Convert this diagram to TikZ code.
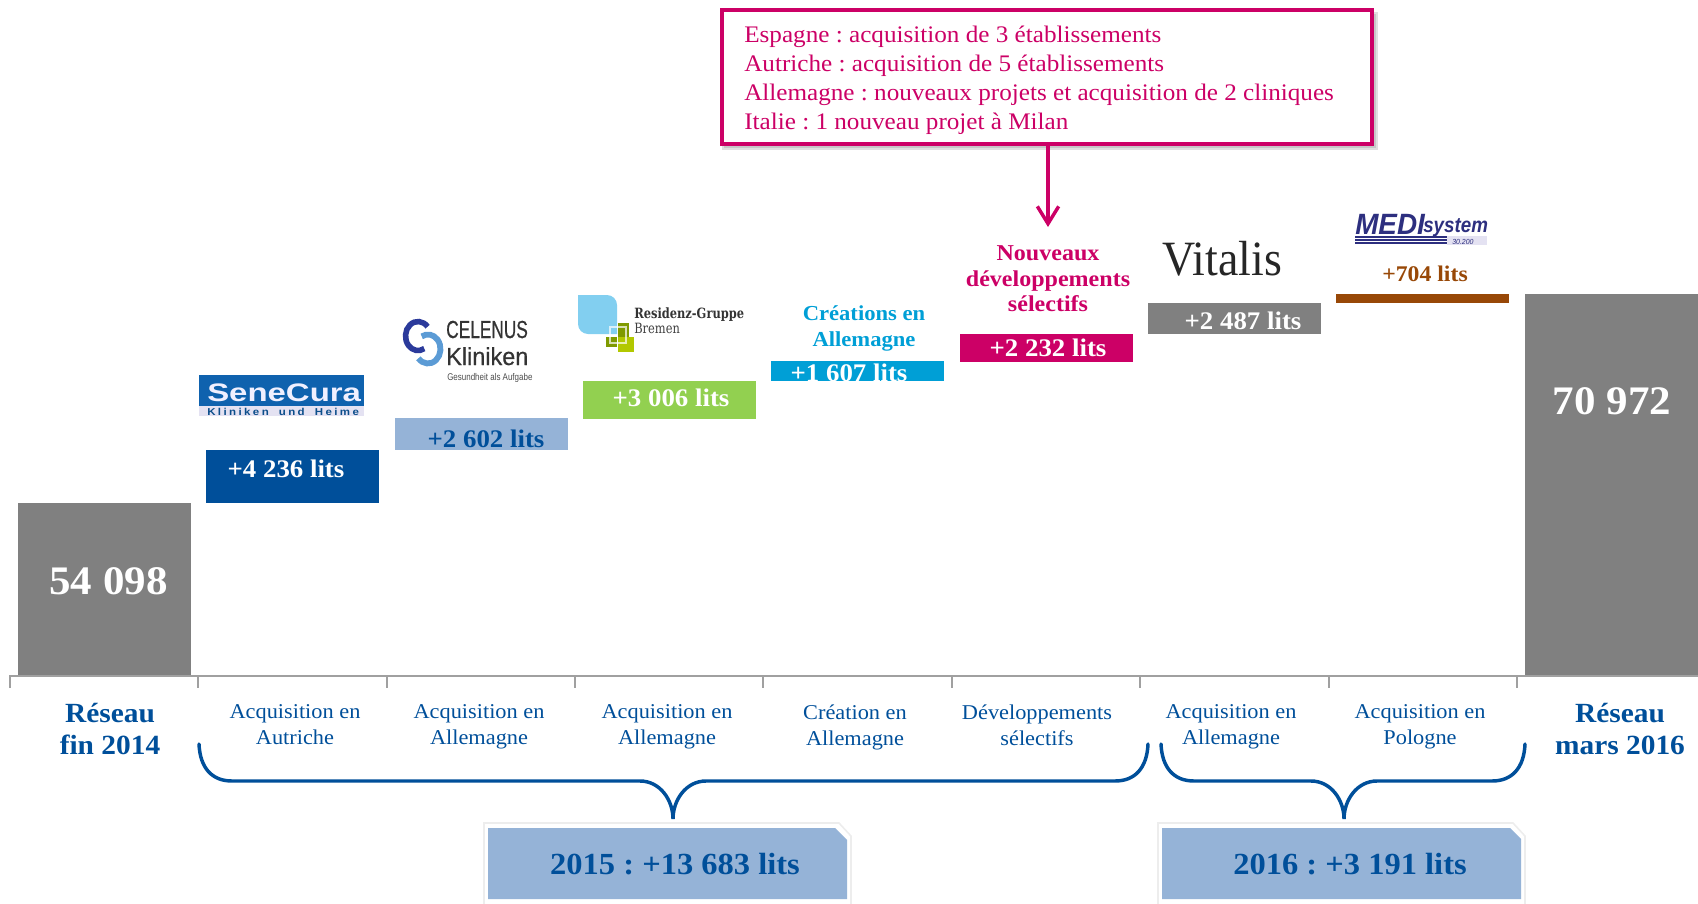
\documentclass[tikz,border=0pt]{standalone}
\usepackage{fontspec}
\setmainfont[FakeStretch=1.06]{Liberation Serif}
\newfontfamily\seneA[FakeStretch=1.3]{Liberation Sans}
\newfontfamily\seneB[FakeStretch=1.15,LetterSpace=24,WordSpace=1.8]{Liberation Sans}
\newfontfamily\celen[FakeStretch=0.70,FakeBold=0.5]{Liberation Sans}
\newfontfamily\celenK[FakeStretch=0.95,FakeBold=0.5]{Liberation Sans}
\newfontfamily\celenS[FakeStretch=0.82]{Liberation Sans}
\newfontfamily\resid[FakeStretch=0.81]{DejaVu Serif}
\newfontfamily\vitalfont[FakeStretch=0.93]{Liberation Serif}
\newfontfamily\medifont[FakeStretch=0.95]{Liberation Sans}
\newfontfamily\medisys[FakeStretch=0.88]{Liberation Sans}
\usetikzlibrary{arrows.meta,calc}
\definecolor{cgray}{HTML}{808080}
\definecolor{cnavy}{HTML}{004F9A}
\definecolor{clight}{HTML}{95B3D7}
\definecolor{cgreen}{HTML}{92D050}
\definecolor{ccyan}{HTML}{009FD6}
\definecolor{cmag}{HTML}{CC0066}
\definecolor{cbrown}{HTML}{984807}
\definecolor{ctick}{HTML}{A0A0A0}
\definecolor{csene}{HTML}{0F62AE}
\definecolor{cmedi}{HTML}{2D2F7F}
\definecolor{cring}{HTML}{2B3A9B}
\definecolor{cring2}{HTML}{5B9BD5}
\definecolor{csky}{HTML}{82CFF0}
\definecolor{colive}{HTML}{7F9A00}
\definecolor{clime}{HTML}{B2C800}
\definecolor{cband}{HTML}{E4E2F2}
\definecolor{crim}{HTML}{EDEDED}
\newcommand{\fs}[1]{\fontsize{#1}{#1}\selectfont\frenchspacing}
\tikzset{
  x=0.75pt,y=-0.75pt,
  val/.style={font=\fs{19}\bfseries,text=white,inner sep=0pt},
  bignum/.style={font=\fs{30.4}\bfseries,text=white,inner sep=0pt},
  cat/.style={font=\fs{15.8},text=cnavy,align=center,inner sep=0pt,text depth=5pt},
  big/.style={font=\fs{20.8}\bfseries,text=cnavy,align=center,inner sep=0pt,text depth=5pt},
  total/.style={font=\fs{23}\bfseries,text=cnavy,inner sep=0pt},
  brace/.style={draw=cnavy,line width=2.6pt,line cap=round},
  tickline/.style={draw=ctick,line width=1.2pt},
  logotxt/.style={inner sep=0pt,anchor=base west},
  rim/.style={draw=crim,line width=1.2pt,fill=white},
}
\begin{document}
\begin{tikzpicture}
\useasboundingbox (0,0) rectangle (1698,903);
% bars
\fill[cgray] (18,503) rectangle (191,676);
\fill[cnavy] (206,450) rectangle (379,503);
\fill[clight] (395,418) rectangle (568,450);
\fill[cgreen] (583,381) rectangle (756,419);
\fill[ccyan] (771,361) rectangle (944,381);
\fill[cmag] (960,334) rectangle (1133,362);
\fill[cgray] (1148,303) rectangle (1321,334);
\fill[cbrown] (1336,294) rectangle (1509,303);
\fill[cgray] (1525,294) rectangle (1698,676);
% bar labels
\node[bignum] (v0) at (108.5,581) {54 098};
\node[bignum] (v9) at (1612,401) {70 972};
\node[val] (v1) at (286,469) {+4 236 lits};
\node[val,text=cnavy] (v2) at (486,439) {+2 602 lits};
\node[val] (v3) at (671,398) {+3 006 lits};
\node[val] (v4) at (849,373) {+1 607 lits};
\node[val] (v5) at (1048,348) {+2 232 lits};
\node[val] (v6) at (1243,321) {+2 487 lits};
\node[font=\fs{16.8}\bfseries,text=cbrown,inner sep=0pt] (v7) at (1425,274) {+704 lits};
% headings
\node[font=\fs{16}\bfseries,text=ccyan,align=center,inner sep=0pt,text depth=4pt] (creat) at (864,329) {Créations en\\[3.2pt]Allemagne};
\node[font=\fs{17}\bfseries,text=cmag,align=center,inner sep=0pt] (nouv) at (1048,279) {Nouveaux\\[2.1pt]développements\\[2.1pt]sélectifs};
% axis
\draw[tickline] (10,688) -- (10,676) -- (1698,676);
\foreach \t in {198,387,575,763,952,1140,1329,1517}{\draw[tickline] (\t,676) -- (\t,688);}
% categories
\node[big] (r0) at (110,732) {Réseau\\[3.5pt]fin 2014};
\node[big] (r1) at (1620,732) {Réseau\\[3.5pt]mars 2016};
\node[cat] (c1) at (295,728) {Acquisition en\\[3.7pt]Autriche};
\node[cat] (c2) at (479,728) {Acquisition en\\[3.7pt]Allemagne};
\node[cat] (c3) at (667,728) {Acquisition en\\[3.7pt]Allemagne};
\node[cat] (c4) at (855,728) {Création en\\[3.7pt]Allemagne};
\node[cat] (c5) at (1037,728) {Développements\\[3.7pt]sélectifs};
\node[cat] (c6) at (1231,728) {Acquisition en\\[3.7pt]Allemagne};
\node[cat] (c7) at (1420,728) {Acquisition en\\[3.7pt]Pologne};
% braces
\coordinate (b1a) at (199,744); \coordinate (b1t) at (673,819); \coordinate (b1b) at (1148,744);
\coordinate (b2a) at (1161,744); \coordinate (b2t) at (1344,819); \coordinate (b2b) at (1525,744);
\draw[brace] (b1a) .. controls (200,768) and (212,781) .. (232,781) -- (640,781)
  .. controls (660,781) and (673,800) .. (b1t)
  .. controls (673,800) and (686,781) .. (706,781) -- (1115,781)
  .. controls (1135,781) and (1147,768) .. (b1b);
\draw[brace] (b2a) .. controls (1162,768) and (1174,781) .. (1194,781) -- (1311,781)
  .. controls (1331,781) and (1344,800) .. (b2t)
  .. controls (1344,800) and (1357,781) .. (1377,781) -- (1492,781)
  .. controls (1512,781) and (1524,768) .. (b2b);
% total boxes
\begin{scope}
\clip (0,0) rectangle (1698,903);
\path[rim] (484,823) -- (839,823) -- (851,836) -- (851,915) -- (484,915) -- cycle;
\fill[clight] (488,828) -- (835,828) -- (847,840) -- (847,899) -- (488,899) -- cycle;
\path[rim] (1158,823) -- (1513,823) -- (1525,836) -- (1525,915) -- (1158,915) -- cycle;
\fill[clight] (1162,828) -- (1510,828) -- (1521,839) -- (1521,899) -- (1162,899) -- cycle;
\end{scope}
\node[total] (t1) at (675,864) {2015 : +13 683 lits};
\node[total] (t2) at (1350,864) {2016 : +3 191 lits};
% callout
\fill[black!12] (722,12) rectangle (1378,150);
\fill[black!22] (724,14) rectangle (1376,148);
\node[draw=cmag,line width=2.8pt,fill=white,
  minimum width=487.5pt,minimum height=101pt,inner sep=0pt] (call) at (1047,77) {};
\node[font=\fs{17.8},text=cmag,align=left,anchor=west,inner sep=0pt] (calltxt) at (744,80) {Espagne : acquisition de 3 établissements\\[3.95pt]Autriche : acquisition de 5 établissements\\[3.95pt]Allemagne : nouveaux projets et acquisition de 2 cliniques\\[3.95pt]Italie : 1 nouveau projet à Milan};
\coordinate (arr) at (1048,227);
\draw[draw=cmag,line width=2.8pt,-{Straight Barb[length=13pt,width=16pt,line width=2.6pt]}] (call.south -| arr) -- (arr);
% SeneCura logo
\fill[csene] (199,375) rectangle (364,406);
\fill[cband] (199,406) rectangle (364,416);
\node[logotxt,font=\fs{19}\seneA\bfseries,text=blue!6!white] (sene) at (207,401) {SeneCura};
\node[logotxt,font=\fs{7.5}\seneB\bfseries,text=csene!80!black] (seneb) at (207,415) {Kliniken und Heime};
% Celenus logo
\draw[line width=4.2pt,draw=cring] (427.6,326.7) arc[start angle=-40,end angle=-300,x radius=12.5,y radius=14.5];
\draw[line width=4.4pt,draw=cring2] (418.4,358.3) arc[start angle=140,end angle=-120,x radius=12.5,y radius=14.5];
\node[logotxt,font=\fs{18.5}\celen,text=black!80] (celA) at (446,338) {CELENUS};
\node[logotxt,font=\fs{18.5}\celenK,text=black!80] (celB) at (446,365) {Kliniken};
\node[logotxt,font=\fs{7.3}\celenS,text=black!70] (celC) at (447,380) {Gesundheit als Aufgabe};
% Residenz logo
\fill[csky] (578,295) -- (607,295) arc[start angle=-90,end angle=0,radius=10] -- (617,334) -- (588,334) arc[start angle=90,end angle=180,radius=10] -- cycle;
\fill[colive] (618,323) rectangle (629,337);
\fill[colive] (606,337) rectangle (617,347);
\fill[clime] (618,337) rectangle (634,352);
\draw[white,opacity=.7,line width=.9pt] (610,327) rectangle (626,343);
\node[logotxt,font=\fs{10.6}\resid\bfseries,text=black!80] (resA) at (634,318) {Residenz-Gruppe};
\node[logotxt,font=\fs{10.6}\resid,text=black!75] (resB) at (634,333) {Bremen};
% Vitalis logo
\node[logotxt,font=\fs{37}\vitalfont,text=black!85] (vit) at (1162,275) {Vitalis};
% MEDIsystem logo
\fill[cband] (1447,236) rectangle (1487,245);
\node[logotxt,font=\fs{22}\medifont\bfseries\itshape,text=cmedi] (medA) at (1355,234) {MEDI};
\node[logotxt,font=\fs{16}\medisys\bfseries\itshape,text=cmedi] (medB) at (1423,232) {system};
\foreach \yy in {237,240,243}{\draw[cmedi,line width=1pt] (1355,\yy) -- (1447,\yy);}
\node[logotxt,font=\fs{5.5}\medifont\itshape,text=cmedi] (medC) at (1452,244) {30.200};
\end{tikzpicture}
\end{document}
